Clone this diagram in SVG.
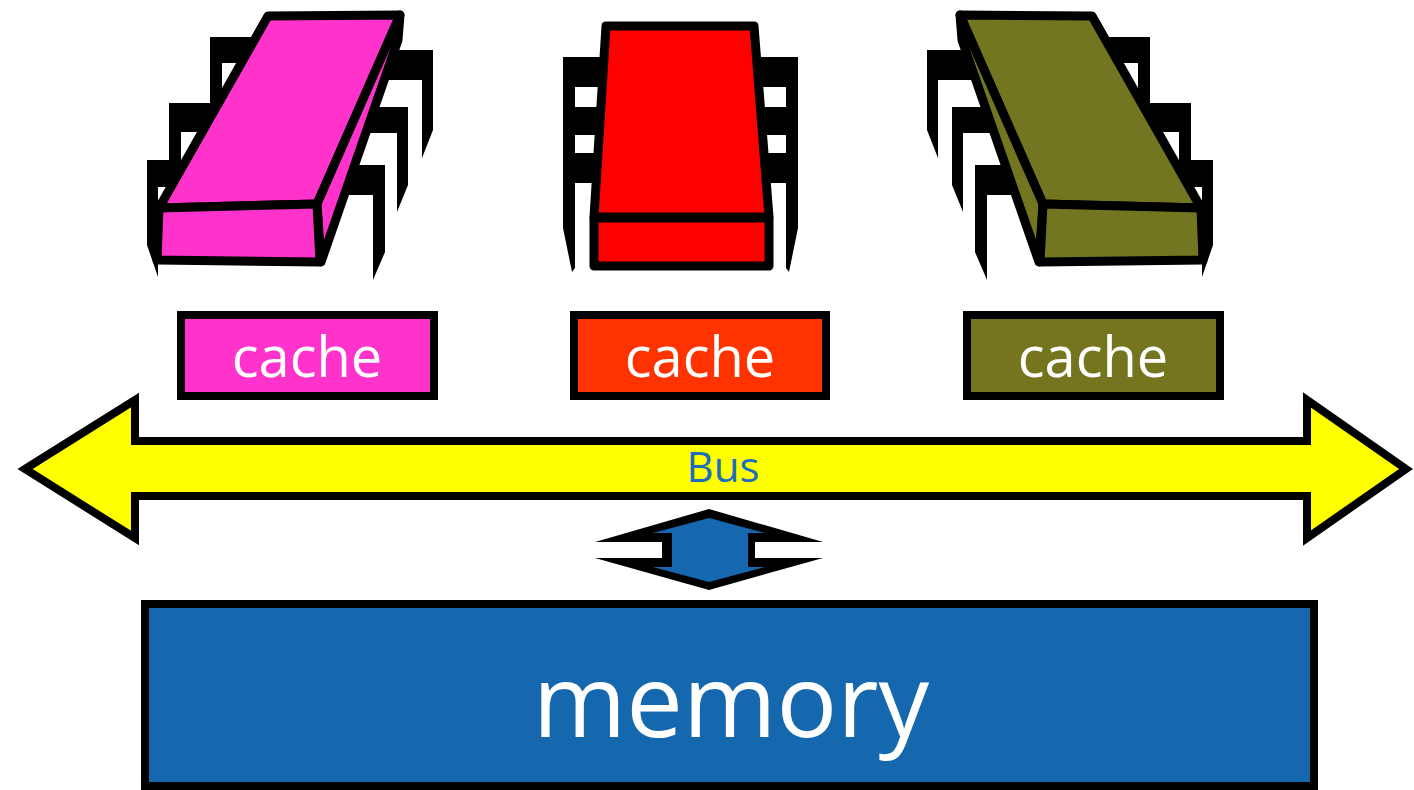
<svg xmlns="http://www.w3.org/2000/svg" xmlns:xlink="http://www.w3.org/1999/xlink" width="1414" height="790" viewBox="0 0 1414 790">
  <style>
    .leg { fill: #000000; }
    .face { stroke: #000000; stroke-width: 9; stroke-linejoin: round; }
    .box { stroke: #000000; stroke-width: 8; }
    .label { font-family: "Open Sans", "Noto Sans", sans-serif; fill: #FFFFFF; text-anchor: middle; }
    .bus { fill: #FFFF00; stroke: #000000; stroke-width: 8; stroke-linejoin: miter; }
  </style>
  <defs>
    <!-- angled chip: legs first, then body faces (fill inherited from the <use>) -->
    <g id="chipAngled">
      <path class="leg" d="M210,37 H262 V63 H222 V160 L210,135 Z"/>
      <path class="leg" d="M169,103 H218 V132 H181 V230 L169,205 Z"/>
      <path class="leg" d="M147,160 H190 V187 H158 V277 L147,245 Z"/>
      <path class="leg" d="M380,50 H433 V130 L422,158 V80 H380 Z"/>
      <path class="leg" d="M355,107 H408 V185 L397,212 V133 H355 Z"/>
      <path class="leg" d="M325,165 H385 V252 L373,280 V195 H325 Z"/>
      <path class="face" d="M268,16 L400,15 L317,204 L159,208 Z"/>
      <path class="face" d="M317,204 L400,15 L398,40 L321,262 Z"/>
      <path class="face" d="M159,208 L317,204 L320,262 L157,260 Z"/>
    </g>
    <!-- one row of legs for the front-facing chip -->
    <path id="frontLegs" class="leg" d="M563,57 H606 V87 H575 V107 H606 V135 H575 V153 H606 V183 H575 V268 L572,272 L563,228 Z"/>
  </defs>

  <!-- processors -->
  <g id="cpu1">
    <use xlink:href="#chipAngled" fill="#FF33CC"/>
  </g>
  <g id="cpu2">
    <use xlink:href="#frontLegs"/>
    <use xlink:href="#frontLegs" transform="translate(1361,0) scale(-1,1)"/>
    <path class="face" fill="#FF0000" d="M606,26 L754,26 L769,217 L594,217 Z"/>
    <rect class="face" fill="#FF0000" x="594" y="218" width="175" height="48"/>
  </g>
  <g id="cpu3">
    <use xlink:href="#chipAngled" fill="#737620" transform="translate(1360,0) scale(-1,1)"/>
  </g>

  <!-- caches -->
  <g id="cache1">
    <rect class="box" fill="#FF33CC" x="181" y="315" width="253" height="81"/>
    <text class="label" x="307" y="377" font-size="56">cache</text>
  </g>
  <g id="cache2">
    <rect class="box" fill="#FF3300" x="574" y="315" width="252" height="81"/>
    <text class="label" x="700" y="377" font-size="56">cache</text>
  </g>
  <g id="cache3">
    <rect class="box" fill="#757520" x="967" y="315" width="253" height="81"/>
    <text class="label" x="1093" y="377" font-size="56">cache</text>
  </g>

  <!-- shared bus -->
  <g id="bus">
    <path class="bus" d="M25,469 L135,400 L135,441 L1307,441 L1307,400 L1406,469 L1307,538 L1307,496 L135,496 L135,538 Z"/>
    <text x="723" y="482" font-family="Open Sans, Noto Sans, sans-serif" font-size="42" fill="#1B6DBE" text-anchor="middle">Bus</text>
  </g>

  <!-- bus to memory link -->
  <g id="connectors">
    <path fill="#000000" d="M709,509 L595,542 L662,542 L662,558 L595,558 L709,590 L823,558 L755,558 L755,542 L823,542 Z"/>
    <path fill="#1568B0" d="M709,518 L653,533 L672,533 L672,567 L653,567 L709,582 L765,567 L748,567 L748,533 L765,533 Z"/>
  </g>

  <!-- main memory -->
  <g id="memory">
    <rect class="box" fill="#1568AE" x="145" y="604" width="1169" height="182"/>
    <text class="label" x="731" y="737" font-size="101">memory</text>
  </g>
</svg>
